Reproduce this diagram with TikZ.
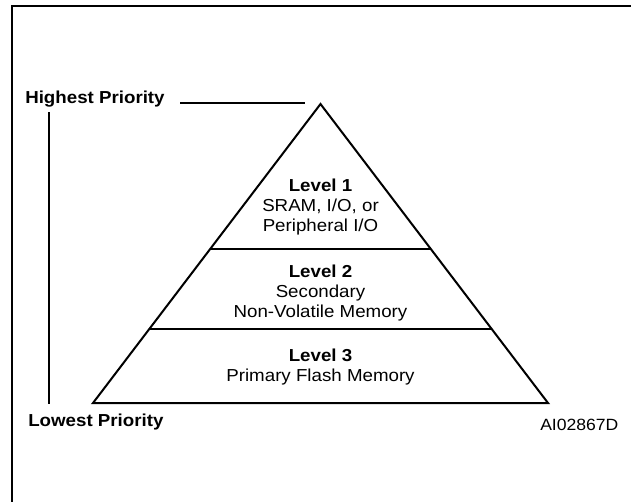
\documentclass[tikz,border=0pt]{standalone}
\usepackage{fontspec}
\setmainfont{Liberation Sans}[FakeStretch=1.08]
\usetikzlibrary{calc}
\usetikzlibrary{positioning}

\begin{document}
\begin{tikzpicture}[x=0.75pt, y=-0.75pt,
    level/.style={align=center, inner sep=0pt, font=\fontsize{13}{14.7}\selectfont},
    prio/.style={inner sep=0pt, anchor=base west, font=\fontsize{13}{14.7}\selectfont\bfseries},
    tier/.style={line width=1pt},
    pyr/.style={line width=1.5pt, line join=miter}]
    \useasboundingbox (0,0) rectangle (631,501);

    % outer frame
    \draw[line width=1.5pt] (12,520) -- (12,6) -- (650,6);

    \coordinate (apex) at (320.5,104);
    \coordinate (bl) at (93,403);
    \coordinate (br) at (548,403);

    \node[prio] (hi) at (25,103) {Highest Priority};
    \node[prio] (lo) at (28,426) {Lowest Priority};
    \node[inner sep=0pt, anchor=base west, font=\fontsize{12.2}{14}\selectfont] (fig) at (540,430) {AI02867D};

    \node[level] (lev1) at (320.5,207) {\textbf{Level 1}\\SRAM, I/O, or\\Peripheral I/O};
    \node[level] (lev2) at (320.5,293) {\textbf{Level 2}\\Secondary\\Non-Volatile Memory};
    \node[level] (lev3) at (320.5,367) {\textbf{Level 3}\\Primary Flash Memory};

    % pyramid and tiers
    \draw[pyr] (apex) -- (br) -- (bl) -- cycle;
    \draw[tier] ($(apex)!0.485!(bl)$) -- ($(apex)!0.485!(br)$);
    \draw[tier] ($(apex)!0.753!(bl)$) -- ($(apex)!0.753!(br)$);

    % priority scale
    \coordinate (hiend) at (305,103);
    \coordinate (top) at (49,112);
    \coordinate (bot) at (49,404);
    \draw[line width=0.8pt] (180,103) -- (hiend);
    \draw[line width=1pt] (top) -- (bot);
\end{tikzpicture}
\end{document}
